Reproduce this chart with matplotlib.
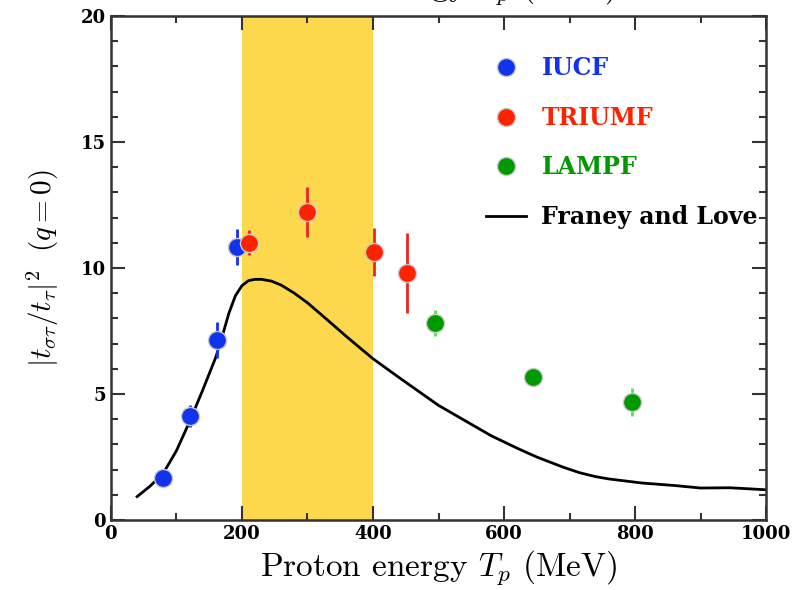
import matplotlib
matplotlib.use('Agg')
import matplotlib.pyplot as plt
from matplotlib.lines import Line2D
from matplotlib.ticker import MultipleLocator

plt.rcParams['mathtext.fontset'] = 'cm'

# measured points
iucf_x = [80, 121, 162, 192]
iucf_y = [1.67, 4.13, 7.14, 10.83]
iucf_err = [0.0, 0.45, 0.7, 0.7]

triumf_x = [211, 300, 401, 452]
triumf_y = [11.0, 12.22, 10.63, 9.8]
triumf_err = [0.5, 1.0, 0.95, 1.6]

lampf_x = [495, 644, 795]
lampf_y = [7.82, 5.67, 4.68]
lampf_err = [0.5, 0.2, 0.55]

# Franey and Love curve
fl_x = [40, 60, 80, 100, 120, 140, 160, 170, 180, 190, 200, 210, 220, 230, 245,
        260, 280, 300, 330, 360, 400, 440, 470, 500, 540, 580, 620, 650, 690,
        715, 740, 760, 810, 860, 900, 945, 1000]
fl_y = [0.93, 1.35, 1.86, 2.75, 3.9, 5.15, 6.45, 7.3, 8.2, 8.9, 9.3, 9.5, 9.55,
        9.55, 9.48, 9.32, 9.0, 8.62, 7.95, 7.27, 6.4, 5.65, 5.1, 4.55, 3.95,
        3.35, 2.85, 2.5, 2.1, 1.88, 1.72, 1.63, 1.47, 1.37, 1.27, 1.28, 1.2]

band = (200, 400)

fig = plt.figure(figsize=(7.98, 5.9), dpi=100)
ax = fig.add_axes([0.139, 0.1186, 0.821, 0.8543])

ax.axvspan(band[0], band[1], color='#fdd84d', lw=0, zorder=0)
ax.plot(fl_x, fl_y, color='black', lw=2, zorder=2)

def pts(x, y, e, c, ec):
    ax.errorbar(x, y, yerr=e, fmt='o', color=c, ecolor=ec, elinewidth=2,
                capsize=0, ms=13, mec='#c8c8c8', mew=1, zorder=3)

pts(iucf_x, iucf_y, iucf_err, '#1133ee', '#1133ee')
pts(triumf_x, triumf_y, triumf_err, '#ff2200', '#ee2222')
pts(lampf_x, lampf_y, lampf_err, '#009900', '#44ee44')

ax.set_xlim(0, 1000)
ax.set_ylim(0, 20)
ax.xaxis.set_major_locator(MultipleLocator(200))
ax.xaxis.set_minor_locator(MultipleLocator(100))
ax.yaxis.set_major_locator(MultipleLocator(5))
ax.yaxis.set_minor_locator(MultipleLocator(1))
ax.tick_params(which='both', direction='in', top=True, right=True, width=1.5, color='#333333')
ax.tick_params(which='major', length=10)
ax.tick_params(which='minor', length=5)
for lab in ax.get_xticklabels() + ax.get_yticklabels():
    lab.set_fontfamily('DejaVu Serif')
    lab.set_fontweight('bold')
    lab.set_fontsize(13)
for s in ax.spines.values():
    s.set_linewidth(1.8)
    s.set_color('#333333')

ax.set_xlabel(r'Proton energy $T_p$ (MeV)', fontsize=24, fontname='cmr10', labelpad=4)
ax.set_ylabel(r'$|t_{\sigma\tau}/t_{\tau}|^2\ \ (q=0)$', fontsize=21, labelpad=14)
# clipped label of the panel above, as in the original
fig.text(0.549, 1.0 + 5 / 590, r'Proton energy $T_p$ (MeV)', fontsize=24, fontname='cmr10',
         ha='center', va='baseline')

handles = [
    Line2D([], [], ls='', marker='o', ms=13, color='#1133ee', mec='#c8c8c8'),
    Line2D([], [], ls='', marker='o', ms=13, color='#ff2200', mec='#c8c8c8'),
    Line2D([], [], ls='', marker='o', ms=13, color='#009900', mec='#c8c8c8'),
    Line2D([], [], color='black', lw=2),
]
labels = ['IUCF', 'TRIUMF', 'LAMPF', 'Franey and Love']
leg = ax.legend(handles, labels, loc='upper left', bbox_to_anchor=(0.54, 0.962),
                frameon=False, labelcolor=['#1133ee', '#ff2200', '#009900', 'black'],
                prop={'family': 'DejaVu Serif', 'weight': 'bold', 'size': 17},
                labelspacing=1.08, handlelength=1.7, handletextpad=0.65)

fig.savefig('out.png', dpi=100)
